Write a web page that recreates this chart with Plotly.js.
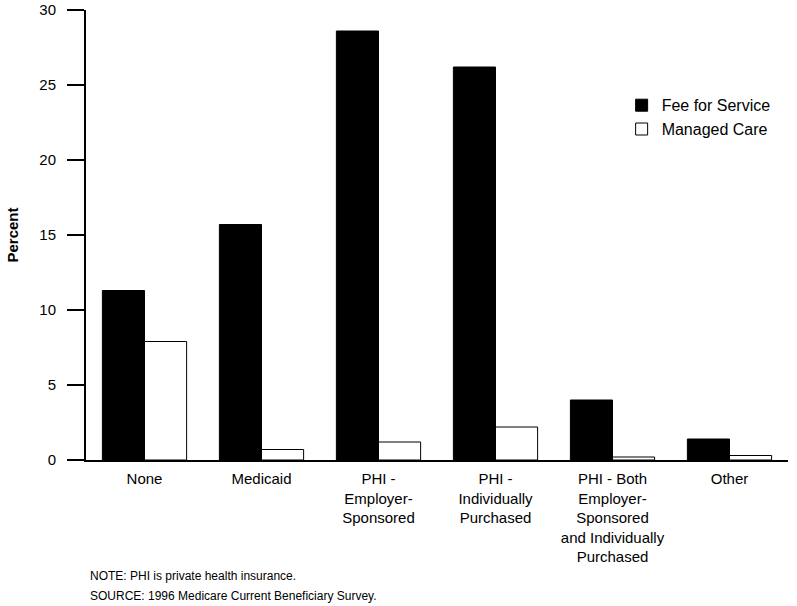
<!DOCTYPE html>
<html>
<head>
<meta charset="utf-8">
<script src="https://cdn.plot.ly/plotly-3.0.1.min.js"></script>
<style>
  body { margin: 0; background: #fff; }
  #chart { width: 797px; height: 606px; }
</style>
</head>
<body>
<div id="chart"></div>
<script>
var categories = [
  'None',
  'Medicaid',
  'PHI -<br>Employer-<br>Sponsored',
  'PHI -<br>Individually<br>Purchased',
  'PHI - Both<br>Employer-<br>Sponsored<br>and Individually<br>Purchased',
  'Other'
];
var feeForService = [11.3, 15.7, 28.6, 26.2, 4.0, 1.4];
var managedCare = [7.9, 0.7, 1.2, 2.2, 0.2, 0.3];
var yTicks = [0, 5, 10, 15, 20, 25, 30];

var font = 'Liberation Sans, Arial, Helvetica, sans-serif';

var trace1 = {
  x: categories,
  y: feeForService,
  name: 'Fee for Service',
  type: 'bar',
  marker: {color: '#000000', line: {color: '#000000', width: 1}}
};

var trace2 = {
  x: categories,
  y: managedCare,
  name: 'Managed Care',
  type: 'bar',
  marker: {color: '#ffffff', line: {color: '#000000', width: 1}}
};

var data = [trace1, trace2];

var layout = {
  width: 797,
  height: 606,
  margin: {l: 86, r: 9, t: 10, b: 146},
  paper_bgcolor: '#ffffff',
  plot_bgcolor: '#ffffff',
  font: {family: font, size: 15, color: '#000000'},
  barmode: 'group',
  bargap: 0.28,
  bargroupgap: 0,
  showlegend: true,
  legend: {
    x: 0.763,
    y: 0.826,
    xanchor: 'left',
    yanchor: 'top',
    font: {family: font, size: 16, color: '#000000'},
    bgcolor: 'rgba(0,0,0,0)'
  },
  xaxis: {
    type: 'category',
    showline: true,
    linecolor: '#000000',
    linewidth: 2,
    ticks: '',
    ticklabelstandoff: 4,
    showgrid: false,
    zeroline: false,
    tickfont: {family: font, size: 15, color: '#000000'}
  },
  yaxis: {
    title: {text: 'Percent', font: {family: font, size: 15, weight: 'bold', color: '#000000'}, standoff: 17},
    range: [0, 30],
    tickvals: yTicks,
    ticks: 'outside',
    ticklen: 17,
    tickwidth: 2,
    tickcolor: '#000000',
    ticklabelstandoff: 8,
    showline: true,
    linecolor: '#000000',
    linewidth: 2,
    showgrid: false,
    zeroline: false,
    tickfont: {family: font, size: 15, color: '#000000'}
  },
  annotations: [
    {
      text: 'NOTE: PHI is private health insurance.',
      xref: 'paper', yref: 'paper',
      x: 0.003, y: -0.258,
      xanchor: 'left', yanchor: 'middle',
      showarrow: false,
      font: {family: font, size: 12, color: '#000000'}
    },
    {
      text: 'SOURCE: 1996 Medicare Current Beneficiary Survey.',
      xref: 'paper', yref: 'paper',
      x: 0.003, y: -0.302,
      xanchor: 'left', yanchor: 'middle',
      showarrow: false,
      font: {family: font, size: 12, color: '#000000'}
    }
  ]
};

Plotly.newPlot('chart', data, layout, {displayModeBar: false});
</script>
</body>
</html>
